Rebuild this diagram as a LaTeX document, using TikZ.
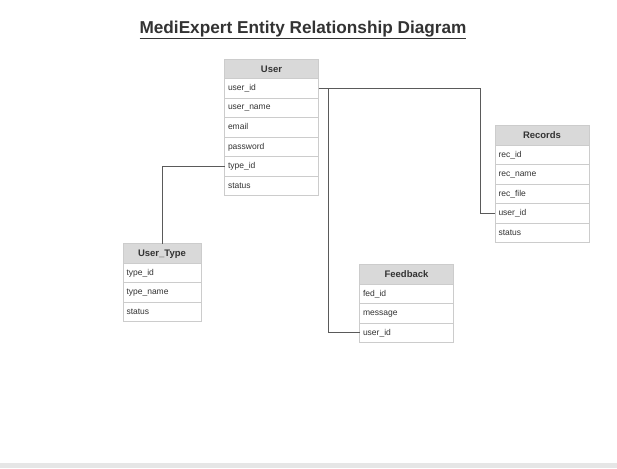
\documentclass[tikz,border=0pt]{standalone}
\usepackage{fontspec}
\setmainfont{Liberation Sans}
\usetikzlibrary{positioning}
\definecolor{hdr}{HTML}{D9D9D9}
\definecolor{brd}{HTML}{CCCCCC}
\definecolor{txt}{HTML}{333333}
\definecolor{lne}{HTML}{5A5A5A}
\definecolor{band}{HTML}{E6E6E6}
\tikzset{
  rowbox/.style={draw=brd, fill=white, minimum height=19.5pt, inner xsep=3.5pt, inner ysep=0pt,
    outer sep=0pt, align=left, text=txt, font=\fontsize{8.5}{10}\selectfont, anchor=north,
    text height=6.3pt, text depth=1.8pt},
  hdrbox/.style={draw=brd, fill=hdr, minimum height=19.5pt, inner sep=0pt, outer sep=0pt, text=txt,
    font=\bfseries\fontsize{9.5}{11}\selectfont, anchor=north, text height=8.5pt, text depth=1.5pt},
  wA/.style={minimum width=94pt, text width=87pt},
  wB/.style={minimum width=78pt, text width=71pt},
  conn/.style={draw=lne, line width=0.8pt},
}
\begin{document}
\begin{tikzpicture}[x=1pt,y=-1pt]
\useasboundingbox (0,0) rectangle (617,468);
\fill[white] (0,0) rectangle (617,468);
\fill[band] (0,463) rectangle (617,468);
\node[text=txt, font=\bfseries\fontsize{17.2}{20}\selectfont] (title) at (303,30) {\underline{MediExpert Entity Relationship Diagram}};

% User
\node[hdrbox, minimum width=94pt] (u0) at (271.5,59) {User};
\node[rowbox, wA, below=0pt of u0] (u1) {user\_id};
\node[rowbox, wA, below=0pt of u1] (u2) {user\_name};
\node[rowbox, wA, below=0pt of u2] (u3) {email};
\node[rowbox, wA, below=0pt of u3] (u4) {password};
\node[rowbox, wA, below=0pt of u4] (u5) {type\_id};
\node[rowbox, wA, below=0pt of u5] (u6) {status};

% User_Type
\node[hdrbox, minimum width=78pt] (t0) at (162,243.5) {User\_Type};
\node[rowbox, wB, below=0pt of t0] (t1) {type\_id};
\node[rowbox, wB, below=0pt of t1] (t2) {type\_name};
\node[rowbox, wB, below=0pt of t2] (t3) {status};

% Records
\node[hdrbox, minimum width=94pt] (r0) at (542,125.5) {Records};
\node[rowbox, wA, below=0pt of r0] (r1) {rec\_id};
\node[rowbox, wA, below=0pt of r1] (r2) {rec\_name};
\node[rowbox, wA, below=0pt of r2] (r3) {rec\_file};
\node[rowbox, wA, below=0pt of r3] (r4) {user\_id};
\node[rowbox, wA, below=0pt of r4] (r5) {status};

% Feedback
\node[hdrbox, minimum width=94pt] (f0) at (406.5,264.5) {Feedback};
\node[rowbox, wA, below=0pt of f0] (f1) {fed\_id};
\node[rowbox, wA, below=0pt of f1] (f2) {message};
\node[rowbox, wA, below=0pt of f2] (f3) {user\_id};

% connectors
\coordinate (k1) at (480,0);
\coordinate (k2) at (328,0);
\draw[conn] (u1.east) -- (u1.east -| k1) |- (r4.west);
\draw[conn] (u1.east) -- (u1.east -| k2) |- (f3.west);
\draw[conn] (u5.west) -| (t0.north);
\end{tikzpicture}
\end{document}
